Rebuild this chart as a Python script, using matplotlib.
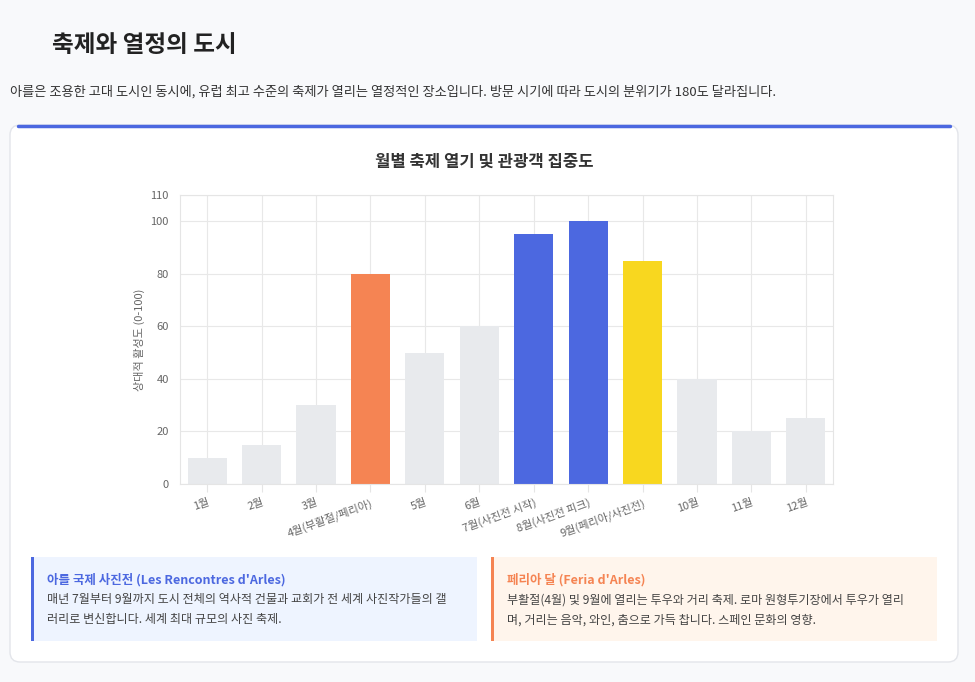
import matplotlib.pyplot as plt
from matplotlib.patches import FancyBboxPatch, Rectangle

plt.rcParams['font.family'] = ['Noto Sans CJK KR', 'DejaVu Sans']

months = ['1월', '2월', '3월', '4월(부활절/페리아)', '5월', '6월', '7월(사진전 시작)',
          '8월(사진전 피크)', '9월(페리아/사진전)', '10월', '11월', '12월']
activity = [10, 15, 30, 80, 50, 60, 95, 100, 85, 40, 20, 25]
bar_colors = ['#e8eaed'] * 3 + ['#f58453'] + ['#e8eaed'] * 2 + ['#4c68e0', '#4c68e0', '#f8d71f'] + ['#e8eaed'] * 3

W, H = 975, 682
fig = plt.figure(figsize=(W / 100, H / 100), dpi=100, facecolor='#f8f9fb')
bg = fig.add_axes([0, 0, 1, 1])
bg.set_xlim(0, W); bg.set_ylim(H, 0); bg.axis('off')

bg.text(52, 45, '축제와 열정의 도시', fontsize=17, fontweight='bold', color='#222', va='center')
bg.text(10, 92, '아를은 조용한 고대 도시인 동시에, 유럽 최고 수준의 축제가 열리는 열정적인 장소입니다. 방문 시기에 따라 도시의 분위기가 180도 달라집니다.',
        fontsize=9.5, color='#333', va='center')

# card
bg.add_patch(FancyBboxPatch((10, 125), 948, 537, boxstyle='round,pad=0,rounding_size=10',
                            facecolor='white', edgecolor='#e3e5ea', lw=1))
bg.plot([18, 950], [126, 126], color='#4c68e0', lw=2.5, solid_capstyle='round')
bg.text(484, 162, '월별 축제 열기 및 관광객 집중도', fontsize=12, fontweight='bold', color='#333',
        ha='center', va='center')

# info boxes
boxes = [
    (31, '#eef4ff', '#4c68e0', '아를 국제 사진전 (Les Rencontres d\'Arles)',
     '매년 7월부터 9월까지 도시 전체의 역사적 건물과 교회가 전 세계 사진작가들의 갤\n러리로 변신합니다. 세계 최대 규모의 사진 축제.'),
    (491, '#fff5ec', '#f58453', '페리아 달 (Feria d\'Arles)',
     '부활절(4월) 및 9월에 열리는 투우와 거리 축제. 로마 원형투기장에서 투우가 열리\n며, 거리는 음악, 와인, 춤으로 가득 찹니다. 스페인 문화의 영향.'),
]
for x, face, edge, title, body in boxes:
    bg.add_patch(Rectangle((x, 557), 446, 84, facecolor=face, edgecolor='none'))
    bg.add_patch(Rectangle((x, 557), 3, 84, facecolor=edge, edgecolor='none'))
    bg.text(x + 16, 580, title, fontsize=9, fontweight='bold', color=edge, va='center')
    bg.text(x + 16, 610, body, fontsize=8.7, color='#444', va='center', linespacing=1.7)

ax = fig.add_axes([180 / W, 1 - 484 / H, 653 / W, 289 / H])
x = range(len(months))
ax.bar(x, activity, width=0.72, color=bar_colors, zorder=2)
ax.set_ylim(0, 110)
ax.set_xlim(-0.5, len(months) - 0.5)
ax.set_yticks([0, 20, 40, 60, 80, 100, 110])
ax.set_xticks(list(x))
ax.set_xticklabels(months, rotation=20, ha='right', rotation_mode='anchor', fontsize=8, color='#666')
ax.tick_params(axis='y', labelsize=8, colors='#666', length=0, pad=8)
ax.tick_params(axis='x', length=6, color='#e5e5e5')
ax.set_ylabel('상대적 활성도 (0-100)', fontsize=8, color='#666')
ax.grid(True, color='#e8e8e8', lw=0.8, zorder=0)
for s in ax.spines.values():
    s.set_color('#e5e5e5')

fig.savefig('out.png', dpi=100, facecolor=fig.get_facecolor())
